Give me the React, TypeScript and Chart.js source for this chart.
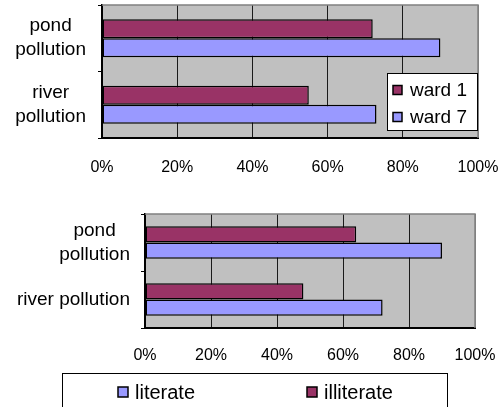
import { useEffect, useRef } from "react";
import { Chart, registerables } from "chart.js";

Chart.register(...registerables);

// ---- data ----
const wardCategories = [["pond", "pollution"], ["river", "pollution"]];
const ward1 = [72, 55];
const ward7 = [90, 73];

const literacyCategories = [["pond", "pollution"], "river pollution"];
const illiterate = [64, 48];
const literate = [90, 72];

const percentTicks = [0, 20, 40, 60, 80, 100];

// ---- styles ----
const MAROON = "#993366";
const PERIWINKLE = "#9999FF";
const PLOT_GRAY = "#C0C0C0";
const FRAME_GRAY = "#808080";
const FONT = '"Liberation Sans", Arial, Helvetica, sans-serif';

type Box = { x: number; y: number; w: number; h: number };
type Slot = { x: number; y: number };

// Gray plot background plus the light top/right frame lines.
const plotFrame = {
  id: "plotFrame",
  beforeDraw(chart: any) {
    const { ctx, chartArea: a } = chart;
    ctx.save();
    ctx.fillStyle = PLOT_GRAY;
    ctx.fillRect(a.left, a.top, a.right - a.left, a.bottom - a.top);
    ctx.restore();
  },
  beforeDatasetsDraw(chart: any) {
    const { ctx, chartArea: a } = chart;
    ctx.save();
    ctx.strokeStyle = FRAME_GRAY;
    ctx.lineWidth = 1.5;
    ctx.beginPath();
    ctx.moveTo(a.left, a.top);
    ctx.lineTo(a.right, a.top);
    ctx.lineTo(a.right, a.bottom);
    ctx.stroke();
    ctx.restore();
  },
};

// Category labels: multi-line labels have their lines centred on each other,
// and every label block ends a fixed gap left of the plot.
function categoryLabels(gap: number, size: number, lineHeight: number) {
  return {
    id: "categoryLabels",
    afterDraw(chart: any) {
      const { ctx, chartArea } = chart;
      const yScale = chart.scales.y;
      const labels = chart.data.labels as (string | string[])[];
      ctx.save();
      ctx.font = `${size}px ${FONT}`;
      ctx.fillStyle = "#000";
      ctx.textAlign = "center";
      ctx.textBaseline = "middle";
      labels.forEach((lab, i) => {
        const lines = Array.isArray(lab) ? lab : [lab];
        const widest = Math.max(...lines.map((l) => ctx.measureText(l).width));
        const cx = chartArea.left - gap - widest / 2;
        const cy = yScale.getPixelForValue(i);
        lines.forEach((l, k) => {
          ctx.fillText(l, cx, cy + (k - (lines.length - 1) / 2) * lineHeight);
        });
      });
      ctx.restore();
    },
  };
}

// Boxed legend with square swatches.
function boxLegend(frame: Box, slots: Slot[], swatch: number, textGap: number, size: number, reverse: boolean) {
  return {
    id: "boxLegend",
    afterDraw(chart: any) {
      const { ctx } = chart;
      const sets = chart.data.datasets.slice();
      if (reverse) sets.reverse();
      ctx.save();
      ctx.fillStyle = "#fff";
      ctx.fillRect(frame.x, frame.y, frame.w, frame.h);
      ctx.strokeStyle = "#000";
      ctx.lineWidth = 1;
      ctx.strokeRect(frame.x + 0.5, frame.y + 0.5, frame.w, frame.h);
      ctx.font = `${size}px ${FONT}`;
      ctx.textAlign = "left";
      ctx.textBaseline = "middle";
      sets.forEach((ds: any, i: number) => {
        const s = slots[i];
        ctx.fillStyle = ds.backgroundColor;
        ctx.fillRect(s.x, s.y - swatch / 2, swatch, swatch);
        ctx.lineWidth = 1.5;
        ctx.strokeStyle = "#000";
        ctx.strokeRect(s.x, s.y - swatch / 2, swatch, swatch);
        ctx.fillStyle = "#000";
        ctx.fillText(ds.label, s.x + textGap, s.y + 1);
      });
      ctx.restore();
    },
  };
}

function barSet(label: string, data: number[], color: string) {
  return {
    label,
    data,
    backgroundColor: color,
    borderColor: "#000",
    borderWidth: 1.5,
    borderSkipped: false as const,
    categoryPercentage: 0.57,
    barPercentage: 1,
  };
}

function makeConfig(opts: {
  labels: (string | string[])[];
  datasets: any[];
  axisWidth: number;
  axisHeight: number;
  padTop: number;
  padRight: number;
  tickPad: number;
  labelGap: number;
  legend: any;
}) {
  return {
    type: "bar" as const,
    data: { labels: opts.labels, datasets: opts.datasets },
    options: {
      indexAxis: "y" as const,
      animation: false as const,
      responsive: false,
      devicePixelRatio: 1,
      layout: { padding: { top: opts.padTop, right: opts.padRight, left: 0, bottom: 0 } },
      plugins: { legend: { display: false }, tooltip: { enabled: false } },
      scales: {
        x: {
          type: "linear" as const,
          min: 0,
          max: 100,
          afterBuildTicks(scale: any) {
            scale.ticks = percentTicks.map((v) => ({ value: v }));
          },
          afterFit(scale: any) {
            scale.height = opts.axisHeight;
            scale.paddingLeft = 0;
            scale.paddingRight = 0;
          },
          grid: {
            drawTicks: false,
            lineWidth: 1,
            color: (c: any) => (c.tick && c.tick.value === 100 ? FRAME_GRAY : "#1a1a1a"),
          },
          border: { color: "#000", width: 2 },
          ticks: {
            padding: opts.tickPad,
            color: "#000",
            font: { family: FONT, size: 16 },
            callback: (v: any) => `${v}%`,
          },
        },
        y: {
          type: "category" as const,
          afterFit(scale: any) {
            scale.width = opts.axisWidth;
            scale.paddingTop = 0;
            scale.paddingBottom = 0;
          },
          grid: {
            offset: true,
            drawOnChartArea: false,
            drawTicks: true,
            tickLength: 4,
            color: "#000",
          },
          border: { color: "#000", width: 2 },
          ticks: { display: false },
        },
      },
    },
    plugins: [plotFrame, categoryLabels(opts.labelGap, 19, 24), opts.legend],
  };
}

function BarPanel({ top, height, build }: { top: number; height: number; build: () => any }) {
  const ref = useRef<HTMLCanvasElement>(null);
  useEffect(() => {
    const chart = new Chart(ref.current!, build());
    return () => chart.destroy();
  }, []);
  return (
    <canvas
      ref={ref}
      width={504}
      height={height}
      style={{ position: "absolute", left: 0, top, width: 504, height }}
    />
  );
}

export default function App() {
  return (
    <div
      style={{
        position: "fixed",
        left: 0,
        top: 0,
        width: 504,
        height: 407,
        background: "#fff",
        overflow: "hidden",
      }}
    >
      <BarPanel
        top={0}
        height={200}
        build={() =>
          makeConfig({
            labels: wardCategories,
            datasets: [barSet("ward 1", ward1, MAROON), barSet("ward 7", ward7, PERIWINKLE)],
            axisWidth: 102,
            axisHeight: 62,
            padTop: 5,
            padRight: 26,
            tickPad: 20,
            labelGap: 16,
            legend: boxLegend(
              { x: 387, y: 73, w: 90, h: 57 },
              [
                { x: 393, y: 90 },
                { x: 393, y: 117 },
              ],
              9,
              17,
              19,
              false
            ),
          })
        }
      />
      <BarPanel
        top={200}
        height={207}
        build={() =>
          makeConfig({
            labels: literacyCategories,
            datasets: [
              barSet("illiterate", illiterate, MAROON),
              barSet("literate", literate, PERIWINKLE),
            ],
            axisWidth: 145,
            axisHeight: 79,
            padTop: 14,
            padRight: 29,
            tickPad: 18,
            labelGap: 15,
            legend: boxLegend(
              { x: 62, y: 173, w: 385, h: 60 },
              [
                { x: 118, y: 192 },
                { x: 307, y: 192 },
              ],
              10,
              17,
              20,
              true
            ),
          })
        }
      />
    </div>
  );
}
